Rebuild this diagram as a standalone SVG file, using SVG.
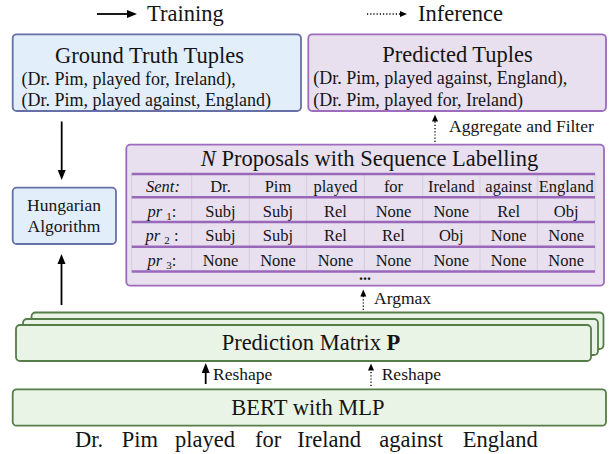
<svg xmlns="http://www.w3.org/2000/svg" width="611" height="454" viewBox="0 0 611 454" font-family="serif">
  <g id="legend">
    <line x1="97" y1="14" x2="128" y2="14" stroke="#000" stroke-width="1.8"/>
    <path d="M127,10 L137,14 L127,18 z" fill="#000"/>
    <text x="147" y="20.5" font-family="Times New Roman" font-size="22.5" fill="#141414">Training</text>
    <line x1="367" y1="14" x2="401" y2="14" stroke="#000" stroke-width="1.3" stroke-dasharray="1.2 2"/>
    <path d="M400,11 L407,14 L400,17 z" fill="#000"/>
    <text x="418" y="20.5" font-family="Times New Roman" font-size="22.5" fill="#141414">Inference</text>
  </g>

  <g id="ground-truth">
    <rect x="12.7" y="34.3" width="288.3" height="76.7" rx="4" fill="#e3eefb" stroke="#6670a6" stroke-width="1.8"/>
    <text x="149.5" y="62.5" text-anchor="middle" font-family="Times New Roman" font-size="22.5" fill="#141414">Ground Truth Tuples</text>
    <text x="21.5" y="84.5" font-family="Times New Roman" font-size="18" fill="#141414">(Dr. Pim, played for, Ireland),</text>
    <text x="21.5" y="106" font-family="Times New Roman" font-size="18" fill="#141414">(Dr. Pim, played against, England)</text>
  </g>

  <g id="predicted">
    <rect x="308.3" y="34.3" width="297.7" height="76.7" rx="4" fill="#e8e0ef" stroke="#9d6cbd" stroke-width="1.8"/>
    <text x="457.5" y="62" text-anchor="middle" font-family="Times New Roman" font-size="22.5" fill="#141414">Predicted Tuples</text>
    <text x="313.3" y="84.3" font-family="Times New Roman" font-size="18" fill="#141414">(Dr. Pim, played against, England),</text>
    <text x="313.3" y="105.5" font-family="Times New Roman" font-size="18" fill="#141414">(Dr. Pim, played for, Ireland)</text>
  </g>

  <g id="hungarian">
    <rect x="12.7" y="187.7" width="103.3" height="56.3" rx="4" fill="#e3eefb" stroke="#6670a6" stroke-width="1.8"/>
    <text x="64" y="210.7" text-anchor="middle" font-family="Times New Roman" font-size="17.5" fill="#141414">Hungarian</text>
    <text x="64" y="231.7" text-anchor="middle" font-family="Times New Roman" font-size="17.5" fill="#141414">Algorithm</text>
  </g>

  <g id="proposals">
    <rect x="126.3" y="144.7" width="477.7" height="141" rx="4" fill="#e8e0ef" stroke="#9d6cbd" stroke-width="1.8"/>
    <text x="369.5" y="166" text-anchor="middle" font-family="Times New Roman" font-size="22.5" fill="#141414"><tspan font-style="italic">N</tspan> Proposals with Sequence Labelling</text>
    <g stroke="#d2ced6" stroke-width="1">
      <line x1="131.7" y1="174" x2="131.7" y2="271.5"/>
      <line x1="191.7" y1="174" x2="191.7" y2="271.5"/>
      <line x1="249.3" y1="174" x2="249.3" y2="271.5"/>
      <line x1="306.7" y1="174" x2="306.7" y2="271.5"/>
      <line x1="364.3" y1="174" x2="364.3" y2="271.5"/>
      <line x1="422.7" y1="174" x2="422.7" y2="271.5"/>
      <line x1="480" y1="174" x2="480" y2="271.5"/>
      <line x1="537.3" y1="174" x2="537.3" y2="271.5"/>
      <line x1="595" y1="174" x2="595" y2="271.5"/>
    </g>
    <g stroke="#9a68ba" stroke-width="2.4">
      <line x1="131.7" y1="174" x2="595" y2="174"/>
      <line x1="131.7" y1="197.3" x2="595" y2="197.3"/>
      <line x1="131.7" y1="222" x2="595" y2="222"/>
      <line x1="131.7" y1="246.7" x2="595" y2="246.7"/>
      <line x1="131.7" y1="271.5" x2="595" y2="271.5"/>
    </g>
    <g font-size="16.5" text-anchor="middle" fill="#141414">
      <text x="163" y="192" font-family="Times New Roman" font-style="italic">Sent:</text>
      <text x="220.5" y="192" font-family="Times New Roman">Dr.</text>
      <text x="278" y="192" font-family="Times New Roman">Pim</text>
      <text x="335.5" y="192" font-family="Times New Roman">played</text>
      <text x="393.5" y="192" font-family="Times New Roman">for</text>
      <text x="451.3" y="192" font-family="Times New Roman">Ireland</text>
      <text x="508.7" y="192" font-family="Times New Roman">against</text>
      <text x="566.2" y="192" font-family="Times New Roman">England</text>

      <text x="162" y="216.8" font-family="Times New Roman"><tspan font-style="italic">pr</tspan> <tspan font-size="11" dy="3">1</tspan><tspan dy="-3">:</tspan></text>
      <text x="220.5" y="216.8" font-family="Times New Roman">Subj</text>
      <text x="278" y="216.8" font-family="Times New Roman">Subj</text>
      <text x="335.5" y="216.8" font-family="Times New Roman">Rel</text>
      <text x="393.5" y="216.8" font-family="Times New Roman">None</text>
      <text x="451.3" y="216.8" font-family="Times New Roman">None</text>
      <text x="508.7" y="216.8" font-family="Times New Roman">Rel</text>
      <text x="566.2" y="216.8" font-family="Times New Roman">Obj</text>

      <text x="162" y="241.3" font-family="Times New Roman"><tspan font-style="italic">pr</tspan> <tspan font-size="11" dy="3">2</tspan> <tspan dy="-3">:</tspan></text>
      <text x="220.5" y="241.3" font-family="Times New Roman">Subj</text>
      <text x="278" y="241.3" font-family="Times New Roman">Subj</text>
      <text x="335.5" y="241.3" font-family="Times New Roman">Rel</text>
      <text x="393.5" y="241.3" font-family="Times New Roman">Rel</text>
      <text x="451.3" y="241.3" font-family="Times New Roman">Obj</text>
      <text x="508.7" y="241.3" font-family="Times New Roman">None</text>
      <text x="566.2" y="241.3" font-family="Times New Roman">None</text>

      <text x="162" y="266.3" font-family="Times New Roman"><tspan font-style="italic">pr</tspan> <tspan font-size="11" dy="3">3</tspan><tspan dy="-3">:</tspan></text>
      <text x="220.5" y="266.3" font-family="Times New Roman">None</text>
      <text x="278" y="266.3" font-family="Times New Roman">None</text>
      <text x="335.5" y="266.3" font-family="Times New Roman">None</text>
      <text x="393.5" y="266.3" font-family="Times New Roman">None</text>
      <text x="451.3" y="266.3" font-family="Times New Roman">None</text>
      <text x="508.7" y="266.3" font-family="Times New Roman">None</text>
      <text x="566.2" y="266.3" font-family="Times New Roman">None</text>
    </g>
    <text x="365" y="279.5" text-anchor="middle" font-family="Times New Roman" font-size="16" font-weight="bold" fill="#141414">...</text>
  </g>

  <g id="prediction-matrix" fill="#eaf4e6" stroke="#557d47" stroke-width="1.8">
    <rect x="31.5" y="312.5" width="572" height="36.5" rx="4"/>
    <rect x="23" y="319" width="575" height="36" rx="4"/>
    <rect x="16" y="325" width="575" height="36" rx="4"/>
    <text x="311" y="350" text-anchor="middle" font-family="Times New Roman" font-size="22.5" fill="#141414" stroke="none">Prediction Matrix <tspan font-weight="bold">P</tspan></text>
  </g>

  <g id="bert">
    <rect x="12.7" y="389.3" width="593.3" height="36.4" rx="4" fill="#eaf4e6" stroke="#557d47" stroke-width="1.8"/>
    <text x="308" y="415" text-anchor="middle" font-family="Times New Roman" font-size="22.5" fill="#141414">BERT with MLP</text>
  </g>

  <g id="sentence" font-size="22.5" fill="#141414">
    <text x="75" y="446.7" font-family="Times New Roman">Dr.</text>
    <text x="121.7" y="446.7" font-family="Times New Roman">Pim</text>
    <text x="175" y="446.7" font-family="Times New Roman">played</text>
    <text x="255" y="446.7" font-family="Times New Roman">for</text>
    <text x="297.3" y="446.7" font-family="Times New Roman">Ireland</text>
    <text x="379.3" y="446.7" font-family="Times New Roman">against</text>
    <text x="462.7" y="446.7" font-family="Times New Roman">England</text>
  </g>

  <g id="connectors">
    <g stroke="#000" stroke-width="1.8" fill="none">
      <line x1="61.7" y1="121.5" x2="61.7" y2="171"/>
      <line x1="61.5" y1="305" x2="61.5" y2="263"/>
      <line x1="205.7" y1="384" x2="205.7" y2="372"/>
    </g>
    <g fill="#000">
      <path d="M57.7,170 L61.7,180 L65.7,170 z"/>
      <path d="M57.5,264 L61.5,254 L65.5,264 z"/>
      <path d="M201.7,373 L205.7,363 L209.7,373 z"/>
    </g>
    <g stroke="#000" stroke-width="1.3" fill="none" stroke-dasharray="1.2 2">
      <line x1="435" y1="142" x2="435" y2="121"/>
      <line x1="363.3" y1="310" x2="363.3" y2="296"/>
      <line x1="371" y1="386" x2="371" y2="370"/>
    </g>
    <g fill="#000">
      <path d="M432,121.5 L435,114.5 L438,121.5 z"/>
      <path d="M360.3,296.5 L363.3,289.5 L366.3,296.5 z"/>
      <path d="M368,370.5 L371,363.5 L374,370.5 z"/>
    </g>
    <text x="449" y="131.7" font-family="Times New Roman" font-size="17.5" fill="#141414">Aggregate and Filter</text>
    <text x="374" y="304" font-family="Times New Roman" font-size="17.5" fill="#141414">Argmax</text>
    <text x="213" y="380" font-family="Times New Roman" font-size="17.5" fill="#141414">Reshape</text>
    <text x="381.7" y="380" font-family="Times New Roman" font-size="17.5" fill="#141414">Reshape</text>
  </g>
</svg>
